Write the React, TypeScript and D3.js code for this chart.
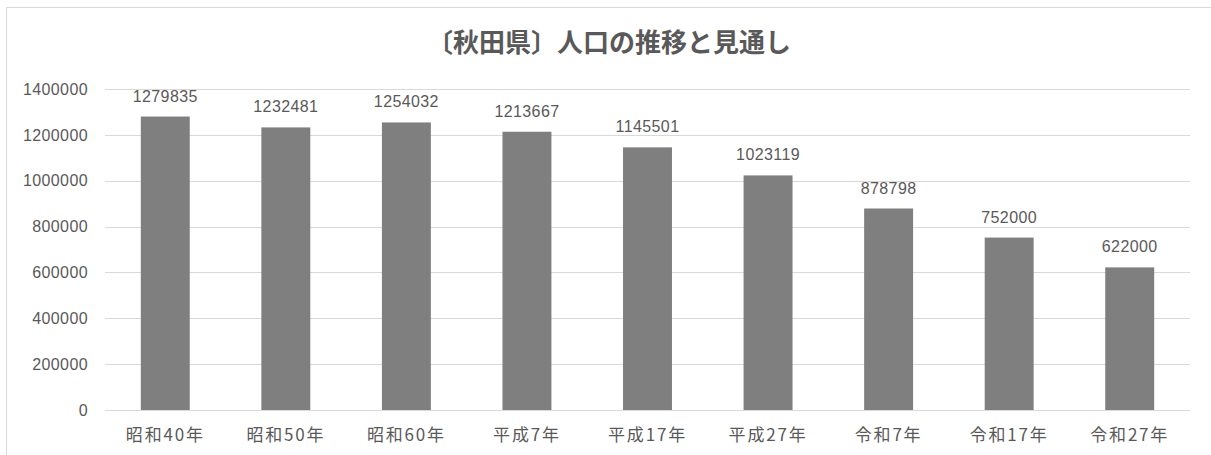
import * as d3 from 'd3'

const categories = ['昭和40年', '昭和50年', '昭和60年', '平成7年', '平成17年', '平成27年', '令和7年', '令和17年', '令和27年']
const population = [1279835, 1232481, 1254032, 1213667, 1145501, 1023119, 878798, 752000, 622000]
const yTicks = [0, 200000, 400000, 600000, 800000, 1000000, 1200000, 1400000]
const TITLE = '〔秋田県〕人口の推移と見通し'

const W = 1211
const H = 455
const PLOT = { left: 105, right: 1190, top: 89, bottom: 410 }

const BAR_COLOR = '#7f7f7f'
const GRID = '#d9d9d9'
const TEXT = '#595959'
const NUM_FONT = "'Liberation Sans', Arial, sans-serif"
const JP_FONT = "'Noto Sans CJK JP', sans-serif"

export default function App() {
  const x = d3
    .scaleBand<string>()
    .domain(categories)
    .range([PLOT.left, PLOT.right])
    .paddingInner(0.594)
    .paddingOuter(0.297)
  const y = d3.scaleLinear().domain([0, 1400000]).range([PLOT.bottom, PLOT.top])

  return (
    <div style={{ position: 'fixed', left: 0, top: 0, background: '#fff' }}>
      <svg width={W} height={H} style={{ display: 'block' }}>
        <rect x={0} y={0} width={W} height={H} fill="#fff" />
        {/* chart border, runs off the right and bottom */}
        <line x1={6.5} x2={6.5} y1={7} y2={H + 2} stroke={GRID} strokeWidth={1} />
        <line x1={6} x2={W + 2} y1={7.5} y2={7.5} stroke={GRID} strokeWidth={1} />

        <text
          x={609}
          y={52}
          textAnchor="middle"
          fill={TEXT}
          fontSize={26}
          fontWeight="bold"
          fontFamily={JP_FONT}
        >
          {TITLE}
        </text>

        {yTicks.map((t) => (
          <g key={t}>
            <line
              x1={PLOT.left}
              x2={PLOT.right}
              y1={Math.round(y(t)) + 0.5}
              y2={Math.round(y(t)) + 0.5}
              stroke={GRID}
              strokeWidth={1}
            />
            <text
              x={88}
              y={y(t)}
              dy="0.36em"
              textAnchor="end"
              fill={TEXT}
              fontSize={16}
              letterSpacing={0.4}
              fontFamily={NUM_FONT}
            >
              {t}
            </text>
          </g>
        ))}

        {population.map((v, i) => {
          const c = categories[i]
          const bx = x(c) ?? 0
          return (
            <g key={c}>
              <rect x={bx} y={y(v)} width={x.bandwidth()} height={y(0) - y(v)} fill={BAR_COLOR} />
              <text
                x={bx + x.bandwidth() / 2}
                y={y(v) - 15}
                textAnchor="middle"
                fill={TEXT}
                fontSize={16}
                letterSpacing={0.4}
                fontFamily={NUM_FONT}
              >
                {v}
              </text>
              <text
                x={bx + x.bandwidth() / 2}
                y={441}
                textAnchor="middle"
                fill={TEXT}
                fontSize={17}
                letterSpacing={1.8}
                fontFamily={JP_FONT}
              >
                {c}
              </text>
            </g>
          )
        })}
      </svg>
    </div>
  )
}
